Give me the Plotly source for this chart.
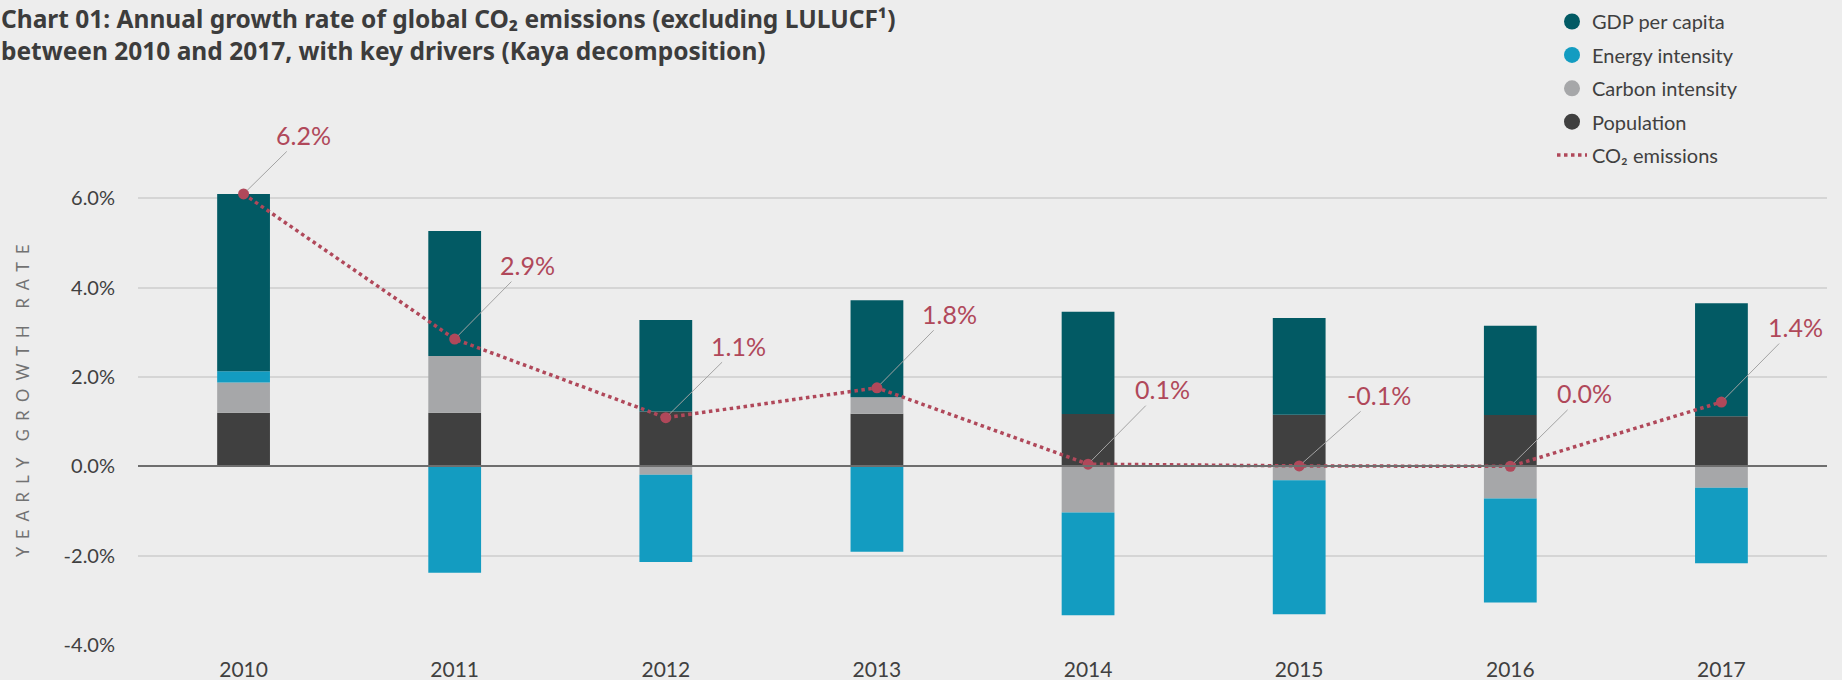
import plotly.graph_objects as go

# ---------------- data ----------------
years = ["2010", "2011", "2012", "2013", "2014", "2015", "2016", "2017"]
population = [1.20, 1.20, 1.23, 1.18, 1.17, 1.155, 1.15, 1.125]
carbon_intensity = [0.68, 1.27, -0.19, 0.37, -1.035, -0.31, -0.72, -0.48]
energy_intensity = [0.25, -2.38, -1.95, -1.91, -2.30, -3.00, -2.33, -1.69]
gdp_per_capita = [3.97, 2.80, 2.05, 2.17, 2.29, 2.17, 2.00, 2.53]
co2_emissions = [6.10, 2.85, 1.09, 1.76, 0.05, 0.01, 0.00, 1.44]
co2_labels = ["6.2%", "2.9%", "1.1%", "1.8%", "0.1%", "-0.1%", "0.0%", "1.4%"]
y_ticks = [-4, -2, 0, 2, 4, 6]
y_tick_labels = ["-4.0%", "-2.0%", "0.0%", "2.0%", "4.0%", "6.0%"]

# ---------------- style ----------------
W, H = 1842, 680
ML, MR, MT, MB = 138, 15, 120, 35
PW, PH = W - ML - MR, H - MT - MB
BG = "#EDEDED"
C_GDP = "#025A64"
C_ENERGY = "#139CC1"
C_CARBON = "#A6A7A9"
C_POP = "#404040"
C_CO2 = "#B0485A"
TXT = "#404040"
FONT = "Lato"
TITLE_FONT = "Noto Sans"
label_dx = [60, 73, 73, 73, 74, 80, 74, 74]
label_dy = [-59, -74, -72, -74, -75, -71, -73, -75]
Y_TOP = 7.756

def px_x(p):
    return (p - ML) / PW

def px_y(p):
    return (H - MB - p) / PH

fig = go.Figure()

bar_specs = [
    ("Population", population, C_POP),
    ("Carbon intensity", carbon_intensity, C_CARBON),
    ("Energy intensity", energy_intensity, C_ENERGY),
    ("GDP per capita", gdp_per_capita, C_GDP),
]
for name, vals, col in bar_specs:
    fig.add_trace(go.Bar(
        x=years, y=vals, name=name, width=0.25,
        marker=dict(color=col, line=dict(width=0)),
        showlegend=False,
    ))

fig.add_trace(go.Scatter(
    x=years, y=co2_emissions, mode="lines+markers", name="CO₂ emissions",
    line=dict(color=C_CO2, width=3.5, dash="3.5px,3.5px"),
    marker=dict(color=C_CO2, size=11),
    showlegend=False,
))

# legend entries (circle swatches like the original)
legend_specs = [
    ("GDP per capita", C_GDP),
    ("Energy intensity", C_ENERGY),
    ("Carbon intensity", C_CARBON),
    ("Population", C_POP),
]
for i, (name, col) in enumerate(legend_specs):
    fig.add_trace(go.Scatter(
        x=[None], y=[None], mode="markers", name=name,
        marker=dict(color=col, size=18, symbol="circle"),
        legendgroup=f"g{i}", showlegend=True,
    ))
fig.add_trace(go.Scatter(
    x=[None], y=[None], mode="lines", name="CO₂ emissions",
    line=dict(color=C_CO2, width=3.5, dash="3.5px,3.5px"),
    legendgroup="g9", showlegend=True,
))

# data labels with leader lines (x given as category index)
for i, (v, lab, dx, dy) in enumerate(zip(co2_emissions, co2_labels, label_dx, label_dy)):
    fig.add_annotation(
        x=i, y=v, xref="x", yref="y", text=lab, showarrow=True, arrowhead=0,
        arrowwidth=1, arrowcolor="#A3A3A3", ax=dx, ay=dy, standoff=5,
        font=dict(family=FONT, size=25, color=C_CO2),
        xanchor="center", yanchor="middle", borderpad=1,
    )

# title
fig.add_annotation(
    xref="paper", yref="paper", x=px_x(-1), y=px_y(0),
    xanchor="left", yanchor="top", showarrow=False, align="left",
    text="<b>Chart 01: Annual growth rate of global CO₂ emissions (excluding LULUCF¹)<br>"
         "between 2010 and 2017, with key drivers (Kaya decomposition)</b>",
    font=dict(family=TITLE_FONT, size=24.5, color="#3C3C3C"),
)

# y axis title
sp = "\u00a0\u00a0"
wsp = "\u00a0" * 4
ytitle = wsp.join(sp.join(list(w)) for w in ["YEARLY", "GROWTH", "RATE"])
fig.add_annotation(
    xref="paper", yref="paper", x=px_x(23), y=px_y(401),
    xanchor="center", yanchor="middle", showarrow=False, textangle=-90,
    text=ytitle,
    font=dict(family=FONT, size=16.5, color="#727272"),
)

fig.update_layout(
    width=W, height=H,
    margin=dict(l=ML, r=MR, t=MT, b=MB, pad=0, autoexpand=False),
    paper_bgcolor=BG, plot_bgcolor=BG,
    barmode="relative",
    font=dict(family=FONT, color=TXT),
    legend=dict(
        xref="container", yref="container",
        x=1552 / W, y=1 - 2 / H, xanchor="left", yanchor="top",
        font=dict(family=FONT, size=20, color=TXT),
        traceorder="grouped", tracegroupgap=4.4,
        bgcolor="rgba(0,0,0,0)", borderwidth=0,
        itemsizing="trace",
    ),
    showlegend=True,
)
fig.update_xaxes(
    type="category", range=[-0.5, 7.5], showgrid=False, zeroline=False,
    showline=False, ticks="", tickfont=dict(family=FONT, size=21, color=TXT),
    ticklabelstandoff=10, fixedrange=True, automargin=False,
)
fig.update_yaxes(
    range=[-4, Y_TOP], tickvals=y_ticks, ticktext=y_tick_labels,
    showgrid=True, gridcolor="#D5D5D5", gridwidth=2,
    zeroline=True, zerolinecolor="#6E6E6E", zerolinewidth=2,
    showline=False, ticks="", tickfont=dict(family=FONT, size=20, color=TXT),
    ticklabelstandoff=22, fixedrange=True, automargin=False,
)
try:
    fig.update_yaxes(zerolinelayer="above traces")
except Exception:
    pass

fig.write_html(
    "out.html",
    config={"displayModeBar": False},
    post_script="document.body.style.margin='0';",
)
